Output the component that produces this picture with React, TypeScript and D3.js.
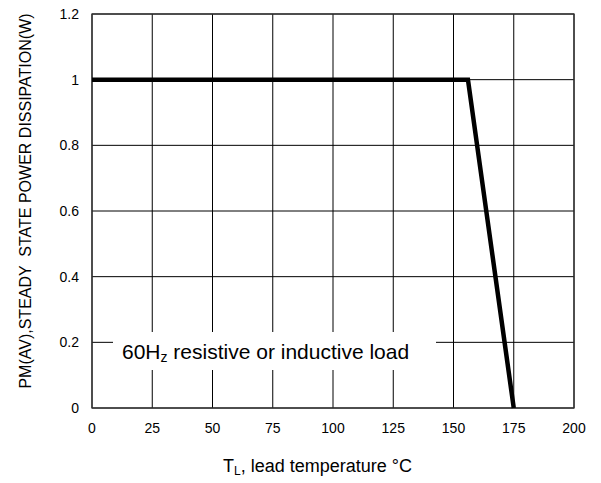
import React from "react";
import * as d3 from "d3";

const xTicks = [0, 25, 50, 75, 100, 125, 150, 175, 200];
const yTicks = [0, 0.2, 0.4, 0.6, 0.8, 1, 1.2];
const yTickLabels = ["0", "0.2", "0.4", "0.6", "0.8", "1", "1.2"];
const curveT = [0, 156, 175];
const curveP = [1, 1, 0];

const W = 601, H = 483;
const L = 92, R = 574, T = 14, B = 408;

export default function App() {
  const x = d3.scaleLinear().domain([0, 200]).range([L, R]);
  const y = d3.scaleLinear().domain([0, 1.2]).range([B, T]);
  const line = d3.line<number>().x((d, i) => x(curveT[i])).y((d) => y(d));
  const font = "Arial, 'Liberation Sans', sans-serif";
  return (
    <svg width={W} height={H} style={{ position: "absolute", left: 0, top: 0 }} fontFamily={font}>
      <rect width={W} height={H} fill="#fff" />
      {xTicks.map((t) => (
        <line key={"gx" + t} x1={x(t)} x2={x(t)} y1={T} y2={B} stroke="#000" strokeWidth={1} />
      ))}
      {yTicks.map((t) => (
        <line key={"gy" + t} x1={L} x2={R} y1={y(t)} y2={y(t)} stroke="#000" strokeWidth={1} />
      ))}
      <rect x={L} y={T} width={R - L} height={B - T} fill="none" stroke="#333" strokeWidth={1.3} />
      <rect x={113} y={332} width={323} height={38} fill="#fff" />
      <text x={122} y={359} fontSize={21} fill="#000">
        60H<tspan fontSize={14} dy={3}>z</tspan><tspan dy={-3}> resistive or inductive load</tspan>
      </text>
      <path d={line(curveP) || ""} fill="none" stroke="#000" strokeWidth={4.5} strokeLinejoin="miter" />
      {xTicks.map((t) => (
        <text key={"tx" + t} x={x(t)} y={433} fontSize={14} textAnchor="middle">{t}</text>
      ))}
      {yTicks.map((t, i) => (
        <text key={"ty" + t} x={L - 13} y={y(t) + 5} fontSize={14} textAnchor="end">{yTickLabels[i]}</text>
      ))}
      <text x={223} y={472} fontSize={18}>
        T<tspan fontSize={12} dy={3}>L</tspan><tspan dy={-3}>, lead temperature °C</tspan>
      </text>
      <text transform={`translate(31, 201) rotate(-90)`} fontSize={16} textAnchor="middle" xmlSpace="preserve">
        PM(AV),STEADY  STATE POWER DISSIPATION(W)
      </text>
    </svg>
  );
}
